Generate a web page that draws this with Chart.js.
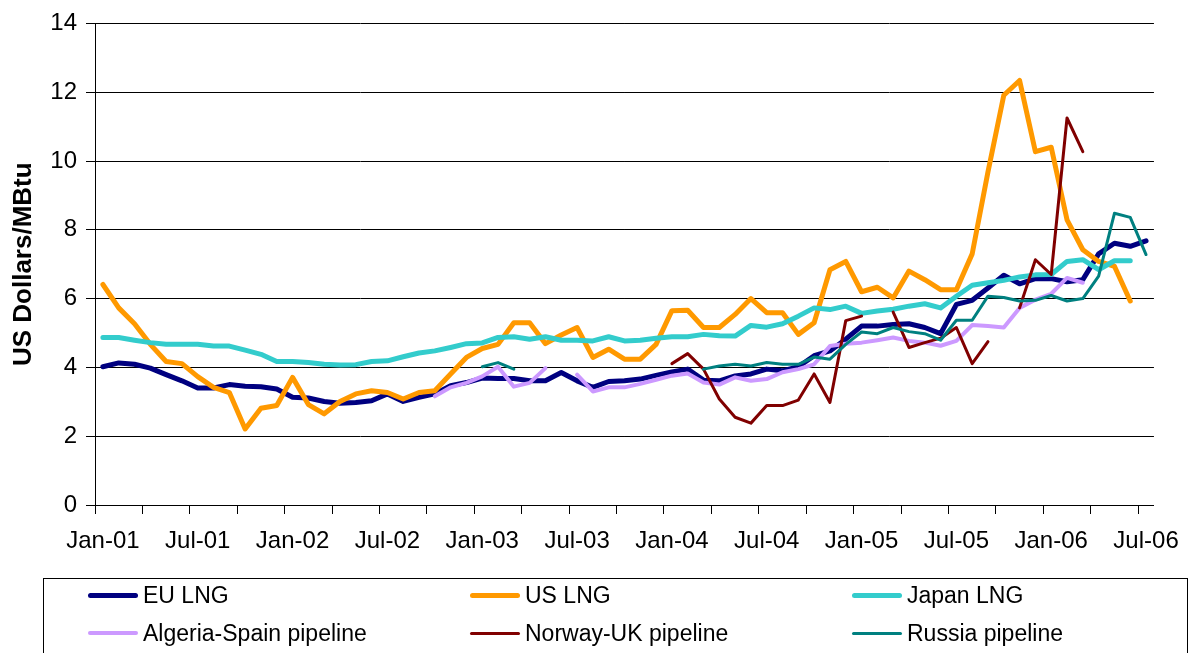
<!DOCTYPE html>
<html>
<head>
<meta charset="utf-8">
<script src="https://cdn.jsdelivr.net/npm/chart.js@4/dist/chart.umd.min.js"></script>
<style>
  html, body { margin: 0; padding: 0; background: #fff; }
  #wrap { position: relative; width: 1192px; height: 653px; overflow: hidden; }
  #legend {
    position: absolute; left: 43px; top: 578px; width: 1145px; height: 100px;
    border: 1px solid #000; box-sizing: border-box;
    font-family: "Liberation Sans", Arial, sans-serif; font-size: 23px; color: #000;
  }
  .item { position: absolute; display: flex; align-items: center; height: 32px; white-space: nowrap; }
  .swatch { width: 50px; border-radius: 3px; margin-right: 5px; }
</style>
</head>
<body>
<div id="wrap">
  <canvas id="gasChart" width="1192" height="653"></canvas>
  <div id="legend"></div>
</div>
<script>
'use strict';

// monthly categories, Jan-01 .. Jul-06
var months = [
  'Jan-01', 'Feb-01', 'Mar-01', 'Apr-01', 'May-01', 'Jun-01', 'Jul-01', 'Aug-01', 'Sep-01', 'Oct-01', 'Nov-01', 'Dec-01',
  'Jan-02', 'Feb-02', 'Mar-02', 'Apr-02', 'May-02', 'Jun-02', 'Jul-02', 'Aug-02', 'Sep-02', 'Oct-02', 'Nov-02', 'Dec-02',
  'Jan-03', 'Feb-03', 'Mar-03', 'Apr-03', 'May-03', 'Jun-03', 'Jul-03', 'Aug-03', 'Sep-03', 'Oct-03', 'Nov-03', 'Dec-03',
  'Jan-04', 'Feb-04', 'Mar-04', 'Apr-04', 'May-04', 'Jun-04', 'Jul-04', 'Aug-04', 'Sep-04', 'Oct-04', 'Nov-04', 'Dec-04',
  'Jan-05', 'Feb-05', 'Mar-05', 'Apr-05', 'May-05', 'Jun-05', 'Jul-05', 'Aug-05', 'Sep-05', 'Oct-05', 'Nov-05', 'Dec-05',
  'Jan-06', 'Feb-06', 'Mar-06', 'Apr-06', 'May-06', 'Jun-06', 'Jul-06'
];

var seriesNames = ['EU LNG', 'US LNG', 'Japan LNG', 'Algeria-Spain pipeline', 'Norway-UK pipeline', 'Russia pipeline'];

// US$/MBtu (null = no data)
var euLng = [
  4.02, 4.13, 4.09, 3.98, 3.79, 3.61, 3.40, 3.40, 3.50, 3.45, 3.44, 3.37,
  3.13, 3.11, 3.01, 2.96, 2.98, 3.03, 3.23, 3.01, 3.13, 3.23, 3.47, 3.56,
  3.69, 3.68, 3.68, 3.61, 3.61, 3.85, 3.61, 3.42, 3.59, 3.61, 3.66, 3.77,
  3.87, 3.95, 3.63, 3.61, 3.75, 3.81, 3.95, 3.90, 4.02, 4.34, 4.48, 4.82,
  5.20, 5.20, 5.25, 5.27, 5.16, 4.98, 5.83, 5.95, 6.31, 6.68, 6.43, 6.58,
  6.58, 6.49, 6.55, 7.30, 7.61, 7.52, 7.68
];
var usLng = [
  6.41, 5.73, 5.27, 4.67, 4.17, 4.11, 3.73, 3.42, 3.27, 2.21, 2.81, 2.89,
  3.71, 2.92, 2.65, 3.01, 3.23, 3.32, 3.27, 3.08, 3.27, 3.32, 3.81, 4.29,
  4.55, 4.67, 5.30, 5.30, 4.69, 4.94, 5.16, 4.29, 4.53, 4.24, 4.24, 4.67,
  5.65, 5.66, 5.16, 5.16, 5.54, 6.00, 5.59, 5.59, 4.96, 5.30, 6.84, 7.08,
  6.20, 6.33, 6.02, 6.80, 6.55, 6.26, 6.26, 7.30, 9.69, 11.91, 12.34, 10.27,
  10.40, 8.29, 7.42, 7.08, 6.94, 5.93, null
];
var japanLng = [
  4.87, 4.87, 4.79, 4.72, 4.67, 4.67, 4.67, 4.62, 4.62, 4.50, 4.38, 4.17,
  4.17, 4.14, 4.09, 4.07, 4.08, 4.17, 4.19, 4.31, 4.42, 4.48, 4.58, 4.69,
  4.71, 4.87, 4.89, 4.82, 4.89, 4.79, 4.79, 4.77, 4.89, 4.77, 4.79, 4.85,
  4.89, 4.89, 4.96, 4.92, 4.91, 5.22, 5.17, 5.27, 5.49, 5.73, 5.68, 5.78,
  5.57, 5.64, 5.69, 5.78, 5.85, 5.73, 6.07, 6.39, 6.46, 6.53, 6.63, 6.69,
  6.70, 7.08, 7.13, 6.84, 7.10, 7.10, null
];
var algeriaSpain = [
  null, null, null, null, null, null, null, null, null, null, null, null,
  null, null, null, null, null, null, null, null, null, 3.16, 3.42, 3.55,
  3.74, 4.02, 3.44, 3.55, 3.98, null, 3.79, 3.30, 3.42, 3.42, 3.52, 3.64,
  3.76, 3.82, 3.56, 3.50, 3.71, 3.61, 3.66, 3.86, 3.95, 4.09, 4.62, 4.69,
  4.72, 4.79, 4.87, 4.77, 4.72, 4.63, 4.77, 5.23, 5.20, 5.16, 5.73, 5.97,
  6.14, 6.60, 6.46, null, null, null, null
];
var norwayUk = [
  null, null, null, null, null, null, null, null, null, null, null, null,
  null, null, null, null, null, null, null, null, null, null, null, null,
  null, null, null, null, null, null, null, null, null, null, null, null,
  4.11, 4.40, 3.95, 3.08, 2.55, 2.38, 2.89, 2.89, 3.05, 3.81, 2.98, 5.36,
  5.49, null, 5.61, 4.58, 4.72, 4.85, 5.16, 4.11, 4.75, null, 5.73, 7.13,
  6.70, 11.25, 10.27, null, null, null, null
];
var russia = [
  null, null, null, null, null, null, null, null, null, null, null, null,
  null, null, null, null, null, null, null, null, null, null, null, null,
  4.02, 4.14, 3.95, null, null, null, null, null, null, null, null, null,
  null, null, 3.95, 4.04, 4.09, 4.04, 4.14, 4.09, 4.09, 4.30, 4.24, 4.67,
  5.03, 4.98, 5.16, 5.04, 4.98, 4.79, 5.37, 5.37, 6.07, 6.03, 5.93, 5.95,
  6.09, 5.93, 6.00, 6.65, 8.48, 8.36, 7.28
];

var yTicks = [0, 2, 4, 6, 8, 10, 12, 14];

var colors = ['#000080', '#FF9900', '#33CCCC', '#CC99FF', '#800000', '#008080'];
var widths = [5, 5, 5, 4, 3, 3];
var allSeries = [euLng, usLng, japanLng, algeriaSpain, norwayUk, russia];

var font = '"Liberation Sans", Arial, sans-serif';

function makeDatasets() {
  var sets = [];
  for (var i = 0; i < allSeries.length; i++) {
    sets.push({
      label: seriesNames[i],
      data: allSeries[i],
      borderColor: colors[i],
      backgroundColor: colors[i],
      borderWidth: widths[i],
      pointRadius: 0,
      tension: 0,
      spanGaps: false,
      borderCapStyle: 'round',
      borderJoinStyle: 'round',
      // later series on top, like the excel original
      order: allSeries.length - i
    });
  }
  return sets;
}

var ctx = document.getElementById('gasChart').getContext('2d');
var chart = new Chart(ctx, {
  type: 'line',
  data: {
    labels: months,
    datasets: makeDatasets()
  },
  options: {
    responsive: false,
    animation: false,
    layout: { padding: { top: 21, right: 36, bottom: 88, left: 0 } },
    plugins: {
      legend: { display: false },
      tooltip: { enabled: false }
    },
    scales: {
      x: {
        offset: true,
        grid: {
          offset: true,
          drawOnChartArea: false,
          tickLength: 9,
          color: function (c) {
            return (c.index !== undefined && c.index % 3 === 0) ? '#000' : 'rgba(0,0,0,0)';
          }
        },
        border: { color: '#000', width: 1 },
        ticks: {
          autoSkip: false,
          maxRotation: 0,
          padding: 13,
          color: '#000',
          font: { family: font, size: 24 },
          callback: function (val, i) {
            return i % 6 === 0 ? months[i] : '';
          }
        },
        afterFit: function (s) { s.height = 60; }
      },
      y: {
        min: 0,
        max: 14,
        afterBuildTicks: function (s) {
          s.ticks = yTicks.map(function (v) { return { value: v }; });
        },
        grid: { color: '#000', tickLength: 9 },
        border: { color: '#000', width: 1 },
        ticks: {
          padding: 9,
          color: '#000',
          font: { family: font, size: 24 }
        },
        title: {
          display: true,
          text: 'US Dollars/MBtu',
          color: '#000',
          font: { family: font, size: 26, weight: 'bold' },
          padding: { top: 8, bottom: 0 }
        },
        afterFit: function (s) { s.width = 95; }
      }
    }
  }
});

// legend in three columns, boxed like the original
(function buildLegend() {
  var box = document.getElementById('legend');
  var colLeft = [44, 426, 808];
  var rowTop = [0, 38];
  for (var i = 0; i < seriesNames.length; i++) {
    var item = document.createElement('div');
    item.className = 'item';
    item.style.left = colLeft[i % 3] + 'px';
    item.style.top = rowTop[Math.floor(i / 3)] + 'px';
    var sw = document.createElement('div');
    sw.className = 'swatch';
    sw.style.height = widths[i] + 'px';
    sw.style.background = colors[i];
    var txt = document.createElement('span');
    txt.textContent = seriesNames[i];
    item.appendChild(sw);
    item.appendChild(txt);
    box.appendChild(item);
  }
})();
</script>
</body>
</html>
